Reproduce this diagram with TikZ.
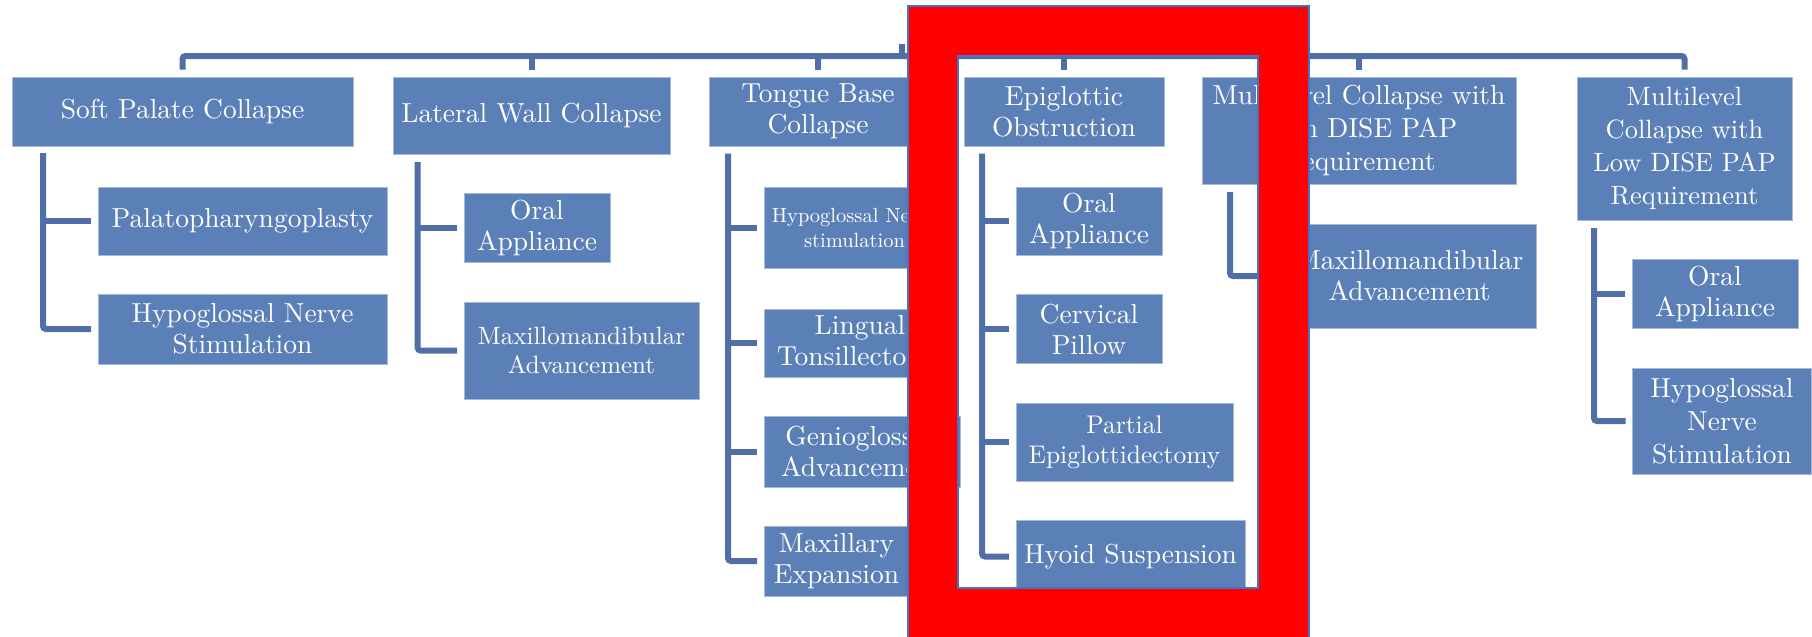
\documentclass[tikz,border=0pt]{standalone}
\usepackage{fontspec}
\setmainfont{lmroman10-regular.otf}[BoldFont=lmroman10-bold.otf, ItalicFont=lmroman10-italic.otf]
\definecolor{boxblue}{RGB}{91,128,184}
\definecolor{lineblue}{RGB}{79,111,166}
\definecolor{frameblue}{RGB}{68,114,196}
\newcommand\fntA{\fontsize{27.5}{31}\selectfont}
\newcommand\fntB{\fontsize{25}{29}\selectfont}
\newcommand\fntC{\fontsize{20.5}{25}\selectfont}
\newcommand\fntD{\fontsize{27.5}{33}\selectfont}
\newcommand\fntE{\fontsize{26.5}{33}\selectfont}
\tikzset{
  box/.style 2 args={fill=boxblue, draw=boxblue!55!white, line width=0.8pt,
    text=white, inner sep=0pt, align=center,
    minimum width=#1pt, minimum height=#2pt, font=\fntA},
  conn/.style={draw=lineblue, line width=6pt},
  elbow/.style={conn, rounded corners=3pt},
}
\begin{document}
\begin{tikzpicture}[x=1pt,y=-1pt]
\useasboundingbox (0,0) rectangle (1812,637);

% level-1 boxes
\node[box={341}{69}] (sp) at (182.5,111.5) {Soft Palate Collapse};
\node[box={277}{77}] (lw) at (531.5,115.5) {Lateral Wall Collapse};
\node[box={218}{69}] (tb) at (818,111.5) {Tongue Base\\Collapse};
\node[box={200}{69}] (ep) at (1064,111.5) {Epiglottic\\Obstruction};
\node[box={314}{107}, font=\fntD] (mh) at (1359,130.5) {Multilevel Collapse with\\High DISE PAP\\Requirement};
\node[box={215}{143}, font=\fntE] (ml) at (1684.5,148.5) {Multilevel\\Collapse with\\Low DISE PAP\\Requirement};

% children
\node[box={289}{68}] (sp1) at (242.5,221) {Palatopharyngoplasty};
\node[box={289}{70}] (sp2) at (242.5,329) {Hypoglossal Nerve\\Stimulation};
\node[box={146}{69}] (lw1) at (537,227.5) {Oral\\Appliance};
\node[box={235}{97}, font=\fntB] (lw2) at (581.5,350.5) {Maxillomandibular\\Advancement};
\node[box={181}{81}, font=\fntC] (tb1) at (854.5,227.5) {Hypoglossal Nerve\\stimulation};
\node[box={192}{68}] (tb2) at (860,343) {Lingual\\Tonsillectomy};
\node[box={196}{71}] (tb3) at (862,451.5) {Genioglossus\\Advancement};
\node[box={145}{70}] (tb4) at (836.5,561) {Maxillary\\Expansion};
\node[box={146}{68}] (ep1) at (1089,221) {Oral\\Appliance};
\node[box={146}{69}] (ep2) at (1089,329) {Cervical\\Pillow};
\node[box={217}{78}, font=\fontsize{25.5}{30}\selectfont] (ep3) at (1124.5,442) {Partial\\Epiglottidectomy};
\node[box={229}{73}] (ep4) at (1130.5,556.5) {Hyoid Suspension};
\node[box={253}{104}] (mh1) at (1409.5,276) {Maxillomandibular\\Advancement};
\node[box={166}{69}] (ml1) at (1715,293.5) {Oral\\Appliance};
\node[box={179}{106}, font=\fntD] (ml2) at (1722,421) {Hypoglossal\\Nerve\\Stimulation};

% top bus
\coordinate (bus) at (906,56);
\coordinate (root) at (902,44);
\draw[conn] (root) -- (root |- bus);
\draw[elbow] ([yshift=7pt]sp.north) |- (bus) -| ([yshift=7pt]ml.north);
\foreach \n in {lw,tb,ep,mh}
  \draw[conn] ([yshift=7pt]\n.north) -- (\n.north |- bus);

% vertical spines
\coordinate (spv) at (43,153);
\coordinate (lwv) at (417.6,162);
\coordinate (tbv) at (728,153.6);
\coordinate (epv) at (982,153.6);
\coordinate (mhv) at (1230,192);
\coordinate (mlv) at (1594,228);

\draw[elbow] (spv) |- ([xshift=-6.5pt]sp2.west);
\draw[conn] (spv |- sp1.west) -- ([xshift=-6.5pt]sp1.west);

\draw[elbow] (lwv) |- ([xshift=-6.5pt]lw2.west);
\draw[conn] (lwv |- lw1.west) -- ([xshift=-6.5pt]lw1.west);

\draw[elbow] (tbv) |- ([xshift=-6.5pt]tb4.west);
\foreach \n in {tb1,tb2,tb3}
  \draw[conn] (tbv |- \n.west) -- ([xshift=-6.5pt]\n.west);

\draw[elbow] (epv) |- ([xshift=-6.5pt]ep4.west);
\foreach \n in {ep1,ep2,ep3}
  \draw[conn] (epv |- \n.west) -- ([xshift=-6.5pt]\n.west);

\draw[elbow] (mhv) |- ([xshift=-6.5pt]mh1.west);

\draw[elbow] (mlv) |- ([xshift=-6.5pt]ml2.west);
\draw[conn] (mlv |- ml1.west) -- ([xshift=-6.5pt]ml1.west);

% red highlight frame
\fill[red, even odd rule] (908,6) rectangle (1309,660) (958,56) rectangle (1258,588);
\draw[frameblue, line width=1.2pt] (908,6) rectangle (1309,660);
\draw[frameblue, line width=1.2pt] (958,56) rectangle (1258,588);
\end{tikzpicture}
\end{document}
